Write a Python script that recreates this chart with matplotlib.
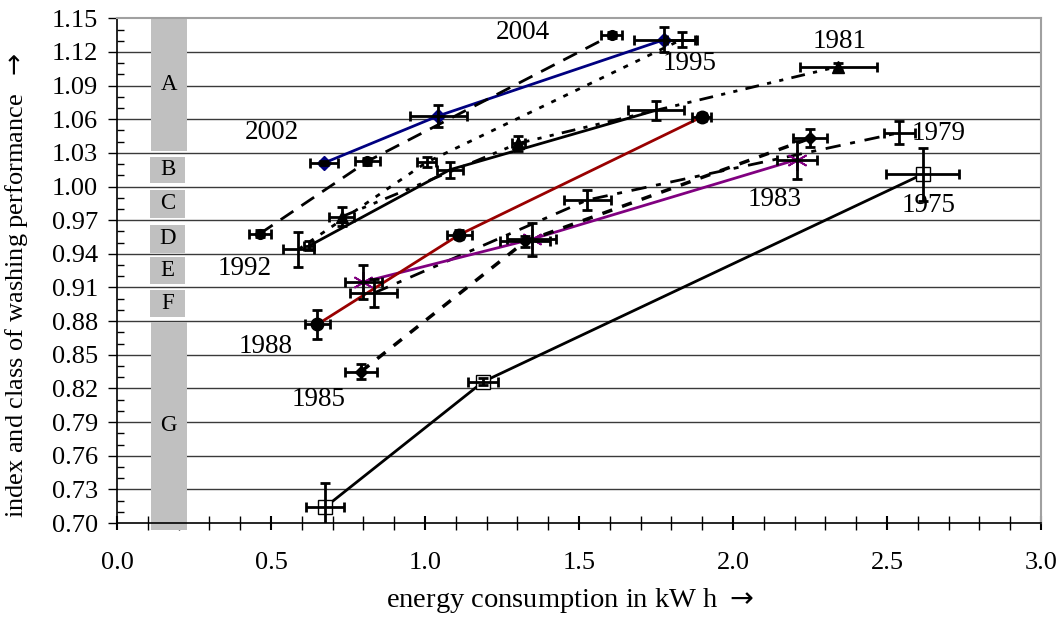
import matplotlib
matplotlib.use('Agg')
import numpy as np
from matplotlib import pyplot as plt

plt.rcParams['font.family'] = ['Liberation Serif', 'DejaVu Serif']
plt.rcParams['mathtext.fontset'] = 'dejavusans'

# energy (kW h), washing index and error bars per machine year
x1975 = [0.675, 1.189, 2.616]
y1975 = [0.714, 0.826, 1.011]
xe1975 = [0.063, 0.049, 0.119]
ye1975 = [0.0215, 0.003, 0.0235]

x1979 = [0.834, 1.527, 2.540]
y1979 = [0.905, 0.988, 1.048]
xe1979 = [0.076, 0.076, 0.051]
ye1979 = [0.0126, 0.0088, 0.0105]

x1981 = [0.729, 1.303, 2.342]
y1981 = [0.973, 1.0385, 1.107]
xe1981 = [0.041, 0.02, 0.125]
ye1981 = [0.0085, 0.0067, 0.003]

x1983 = [0.800, 1.346, 2.207]
y1983 = [0.915, 0.953, 1.024]
xe1983 = [0.06, 0.08, 0.065]
ye1983 = [0.0153, 0.0149, 0.017]

x1985 = [0.792, 1.325, 2.250]
y1985 = [0.835, 0.951, 1.043]
xe1985 = [0.053, 0.08, 0.054]
ye1985 = [0.007, 0.005, 0.008]

x1988 = [0.650, 1.111, 1.898]
y1988 = [0.877, 0.957, 1.062]
xe1988 = [0.04, 0.04, 0.032]
ye1988 = [0.0126, 0.004, 0.004]

x1992 = [0.623, 1.081, 1.750]
y1992 = [0.947, 1.015, 1.068]
xe1992 = [0.015, 0.043, 0.091]
ye1992 = [0.004, 0.007, 0.0086]

x1995 = [0.589, 1.005, 1.833]
y1995 = [0.944, 1.0216, 1.131]
xe1995 = [0.049, 0.032, 0.049]
ye1995 = [0.0156, 0.0045, 0.0067]

x2002 = [0.672, 1.043, 1.777]
y2002 = [1.021, 1.063, 1.131]
xe2002 = [0.047, 0.092, 0.098]
ye2002 = [0.002, 0.0097, 0.011]

x2004 = [0.464, 0.813, 1.606]
y2004 = [0.958, 1.0225, 1.135]
xe2004 = [0.035, 0.041, 0.034]
ye2004 = [0.003, 0.003, 0.003]

years = ['1975', '1979', '1981', '1983', '1985', '1988', '1992', '1995', '2002', '2004']
xs = [x1975, x1979, x1981, x1983, x1985, x1988, x1992, x1995, x2002, x2004]
ys = [y1975, y1979, y1981, y1983, y1985, y1988, y1992, y1995, y2002, y2004]
xes = [xe1975, xe1979, xe1981, xe1983, xe1985, xe1988, xe1992, xe1995, xe2002, xe2004]
yes = [ye1975, ye1979, ye1981, ye1983, ye1985, ye1988, ye1992, ye1995, ye2002, ye2004]

# year label positions (data coords)
label_x = [2.634, 2.667, 2.347, 2.136, 0.654, 0.481, 0.416, 1.858, 0.502, 1.318]
label_y = [0.983, 1.0475, 1.129, 0.988, 0.810, 0.857, 0.927, 1.110, 1.048, 1.137]

# energy label classes of washing performance
classes = ['A', 'B', 'C', 'D', 'E', 'F', 'G']
class_top = [1.15, 1.0266, 0.997, 0.966, 0.9375, 0.908, 0.8795]
class_bottom = [1.032, 1.003, 0.972, 0.9405, 0.913, 0.884, 0.694]

y_ticks = [0.70, 0.73, 0.76, 0.79, 0.82, 0.85, 0.88, 0.91, 0.94, 0.97, 1.00, 1.03, 1.06, 1.09, 1.12, 1.15]
x_ticks = [0.0, 0.5, 1.0, 1.5, 2.0, 2.5, 3.0]

styles = {
    '1975': dict(color='k', ls='-', marker='s', mfc='white', mec='k', ms=10),
    '1979': dict(color='k', dashes=(5.5, 3.5, 1.8, 3.5), marker=None),
    '1981': dict(color='k', dashes=(5, 3, 1.5, 3, 1.5, 3), marker='^', mfc='k', mec='k', ms=9),
    '1983': dict(color='#800080', ls='-', marker=(6, 2, 0), mec='#800080', ms=15, mew=1.3),
    '1985': dict(color='k', dashes=(3, 3), lw=2.5, marker='D', mfc='k', mec='k', ms=6.5),
    '1988': dict(color='#990000', ls='-', marker='o', mfc='k', mec='k', ms=9),
    '1992': dict(color='k', ls='-', marker=None),
    '1995': dict(color='k', dashes=(1.8, 3), marker=None),
    '2002': dict(color='#000080', ls='-', marker='D', mfc='#000080', mec='#000080', ms=7),
    '2004': dict(color='k', dashes=(5.5, 3.5), marker='o', mfc='k', mec='k', ms=7),
}

fig = plt.figure(figsize=(10.61, 6.18), dpi=100)
ax = fig.add_axes([0.1103, 0.1537, 0.8709, 0.8167])

for yt in y_ticks[1:-1]:
    ax.axhline(yt, color='#3a3a3a', lw=1.0, zorder=1)

for c, t, b in zip(classes, class_top, class_bottom):
    if c in ('A', 'G'):
        x0, x1 = 0.110, 0.226
    else:
        x0, x1 = 0.107, 0.221
    ax.fill_between([x0, x1], b, t, color='#c0c0c0', lw=0, zorder=2, clip_on=False)
    ax.text((x0 + x1) / 2, (t + b) / 2, c, ha='center', va='center', fontsize=16.5, zorder=3)

for yr, x, y, xe, ye in zip(years, xs, ys, xes, yes):
    kw = dict(lw=2)
    kw.update(styles[yr])
    ax.plot(x, y, zorder=4, **kw)
    ax.errorbar(x, y, xerr=xe, yerr=ye, fmt='none', ecolor='k', elinewidth=2,
                capsize=3.5, capthick=2, zorder=5)

for yr, lx, ly in zip(years, label_x, label_y):
    ax.text(lx, ly, yr, ha='center', va='center', fontsize=19.5, zorder=6)

ax.set_xlim(0, 3.0)
ax.set_ylim(0.70, 1.15)
ax.set_xticks(x_ticks)
ax.set_xticklabels(['%.1f' % v for v in x_ticks], fontsize=19)
ax.set_xticks(np.arange(0, 3.01, 0.1), minor=True)
ax.set_yticks(y_ticks)
ax.set_yticklabels(['%.2f' % v for v in y_ticks], fontsize=19)
ax.set_yticks(np.arange(0.70, 1.151, 0.01), minor=True)

ax.tick_params(axis='x', which='both', direction='inout', length=9.5, width=1, pad=16)
ax.tick_params(axis='x', which='major', width=1.5)
ax.tick_params(axis='y', which='major', direction='out', length=6.5, width=1, pad=7)
ax.tick_params(axis='y', which='minor', direction='in', length=5, width=1)

for s in ('top', 'right'):
    ax.spines[s].set_color('#a0a0a0')
    ax.spines[s].set_linewidth(1.5)
for s in ('left', 'bottom'):
    ax.spines[s].set_linewidth(1.2)

ax.set_xlabel('energy consumption in kW h $\\rightarrow$', fontsize=20.5)
ax.xaxis.set_label_coords(0.49, -0.125)
ax.set_ylabel('index and class of washing performance  $\\rightarrow$', fontsize=19)
ax.yaxis.set_label_coords(-0.094, 0.47)

fig.savefig('out.png', dpi=100)
